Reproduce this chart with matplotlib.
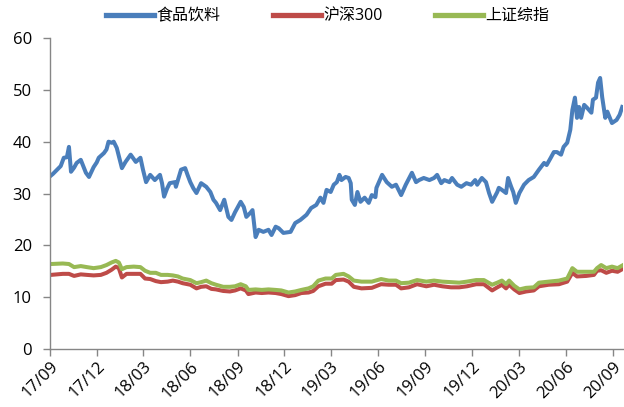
import matplotlib
matplotlib.use("Agg")
import matplotlib.pyplot as plt
import matplotlib.dates as mdates
import pandas as pd

plt.rcParams['font.family'] = ['Open Sans', 'Noto Sans CJK SC', 'DejaVu Sans']

# 食品饮料 (readings)
FOOD_DATES = [
    "2017-09-01", "2017-09-07", "2017-09-15", "2017-09-22", "2017-09-28", "2017-10-04",
    "2017-10-08", "2017-10-12", "2017-10-18", "2017-10-23", "2017-10-31", "2017-11-06",
    "2017-11-10", "2017-11-16", "2017-11-25", "2017-12-01", "2017-12-05", "2017-12-15",
    "2017-12-20", "2017-12-24", "2017-12-30", "2018-01-03", "2018-01-09", "2018-01-15",
    "2018-01-19", "2018-01-26", "2018-02-05", "2018-02-15", "2018-02-24", "2018-03-01",
    "2018-03-07", "2018-03-15", "2018-03-24", "2018-04-03", "2018-04-07", "2018-04-11",
    "2018-04-17", "2018-04-22", "2018-05-02", "2018-05-04", "2018-05-14", "2018-05-22",
    "2018-05-27", "2018-06-01", "2018-06-07", "2018-06-13", "2018-06-22", "2018-07-02",
    "2018-07-10", "2018-07-16", "2018-07-21", "2018-07-29", "2018-08-06", "2018-08-14",
    "2018-08-20", "2018-08-27", "2018-09-07", "2018-09-13", "2018-09-18", "2018-09-26",
    "2018-09-30", "2018-10-06", "2018-10-12", "2018-10-21", "2018-10-31", "2018-11-06",
    "2018-11-14", "2018-11-20", "2018-11-29", "2018-12-13", "2018-12-22", "2019-01-01",
    "2019-01-13", "2019-01-22", "2019-02-01", "2019-02-09", "2019-02-15", "2019-02-21",
    "2019-03-01", "2019-03-07", "2019-03-13", "2019-03-18", "2019-03-22", "2019-03-30",
    "2019-04-05", "2019-04-09", "2019-04-11", "2019-04-17", "2019-04-22", "2019-04-28",
    "2019-05-06", "2019-05-14", "2019-05-20", "2019-05-27", "2019-05-29", "2019-06-09",
    "2019-06-18", "2019-06-28", "2019-07-06", "2019-07-16", "2019-07-25", "2019-08-06",
    "2019-08-14", "2019-08-20", "2019-08-29", "2019-09-09", "2019-09-18", "2019-09-24",
    "2019-10-02", "2019-10-08", "2019-10-18", "2019-10-23", "2019-11-02", "2019-11-10",
    "2019-11-20", "2019-11-29", "2019-12-07", "2019-12-11", "2019-12-20", "2019-12-28",
    "2020-01-03", "2020-01-09", "2020-01-19", "2020-01-22", "2020-01-28", "2020-02-05",
    "2020-02-09", "2020-02-15", "2020-02-19", "2020-02-24", "2020-03-02", "2020-03-11",
    "2020-03-20", "2020-03-30", "2020-04-09", "2020-04-19", "2020-04-24", "2020-05-02",
    "2020-05-08", "2020-05-14", "2020-05-22", "2020-05-27", "2020-06-03", "2020-06-09",
    "2020-06-13", "2020-06-18", "2020-06-22", "2020-06-26", "2020-06-30", "2020-07-06",
    "2020-07-12", "2020-07-20", "2020-07-23", "2020-07-29", "2020-08-02", "2020-08-06",
    "2020-08-10", "2020-08-16", "2020-08-20", "2020-08-25", "2020-08-29", "2020-09-07",
    "2020-09-13", "2020-09-18",
]
FOOD = [
    33.3, 33.8, 34.6, 35.3, 36.9, 37.0, 39.0, 34.2, 35.0, 35.9, 36.5, 35.0,
    34.0, 33.2, 35.1, 36.0, 36.9, 37.8, 38.5, 40.0, 39.8, 40.0, 38.8, 36.5,
    34.9, 36.1, 37.5, 36.1, 36.9, 34.6, 32.2, 33.6, 32.6, 33.6, 32.0, 29.4,
    31.0, 32.0, 32.2, 31.3, 34.6, 34.9, 33.5, 32.2, 31.0, 30.1, 32.0, 31.3,
    30.3, 28.8, 28.2, 26.8, 28.8, 25.5, 24.9, 26.4, 28.4, 27.4, 25.5, 26.3,
    26.8, 21.6, 23.0, 22.6, 23.0, 22.0, 23.6, 23.3, 22.4, 22.6, 24.3, 24.9,
    25.9, 27.2, 27.8, 29.2, 28.2, 30.7, 30.3, 31.7, 32.2, 33.6, 32.6, 33.2,
    33.0, 32.0, 28.8, 27.8, 30.3, 28.4, 29.2, 28.2, 29.7, 29.3, 31.1, 33.6,
    32.2, 31.3, 31.7, 29.7, 31.7, 34.0, 32.2, 32.6, 33.0, 32.6, 33.0, 33.6,
    32.0, 32.6, 32.2, 33.0, 31.7, 31.3, 32.0, 31.7, 32.6, 31.7, 33.0, 32.2,
    30.1, 28.4, 30.3, 31.1, 30.7, 30.1, 33.0, 31.3, 30.3, 28.2, 30.1, 31.7,
    32.6, 33.2, 34.6, 35.9, 35.5, 36.9, 38.0, 38.0, 37.5, 39.0, 39.8, 42.3,
    46.1, 48.5, 44.6, 46.7, 44.6, 47.1, 46.5, 45.6, 48.1, 48.5, 51.4, 52.3,
    48.6, 44.6, 45.8, 44.6, 43.6, 44.2, 45.2, 46.7,
]

# 沪深300 / 上证综指
INDEX_DATES = [
    "2017-09-03", "2017-09-26", "2017-10-08", "2017-10-18", "2017-10-31", "2017-11-12",
    "2017-11-25", "2017-12-09", "2017-12-20", "2017-12-30", "2018-01-07", "2018-01-13",
    "2018-01-19", "2018-01-28", "2018-02-11", "2018-02-24", "2018-03-05", "2018-03-15",
    "2018-03-26", "2018-04-05", "2018-04-18", "2018-04-28", "2018-05-08", "2018-05-17",
    "2018-06-01", "2018-06-13", "2018-06-22", "2018-07-02", "2018-07-12", "2018-07-21",
    "2018-08-04", "2018-08-17", "2018-08-27", "2018-09-07", "2018-09-17", "2018-09-22",
    "2018-10-06", "2018-10-18", "2018-10-31", "2018-11-14", "2018-11-25", "2018-12-09",
    "2018-12-22", "2019-01-03", "2019-01-17", "2019-01-26", "2019-02-05", "2019-02-19",
    "2019-03-03", "2019-03-11", "2019-03-26", "2019-04-05", "2019-04-15", "2019-04-30",
    "2019-05-20", "2019-06-07", "2019-06-22", "2019-07-06", "2019-07-16", "2019-07-31",
    "2019-08-16", "2019-09-03", "2019-09-18", "2019-10-04", "2019-10-21", "2019-11-06",
    "2019-11-21", "2019-12-09", "2019-12-24", "2020-01-09", "2020-01-19", "2020-01-28",
    "2020-02-05", "2020-02-11", "2020-02-21", "2020-03-02", "2020-03-15", "2020-03-30",
    "2020-04-09", "2020-04-28", "2020-05-18", "2020-06-03", "2020-06-13", "2020-06-22",
    "2020-07-10", "2020-07-25", "2020-07-31", "2020-08-08", "2020-08-18", "2020-08-29",
    "2020-09-09", "2020-09-18",
]
HS300 = [
    14.3, 14.5, 14.5, 14.1, 14.4, 14.3, 14.2, 14.3, 14.7, 15.3, 15.9, 15.6,
    13.8, 14.5, 14.5, 14.5, 13.6, 13.5, 13.1, 12.9, 13.0, 13.2, 13.0, 12.7,
    12.4, 11.7, 12.0, 12.1, 11.6, 11.5, 11.2, 11.1, 11.3, 11.7, 11.3, 10.6,
    10.9, 10.8, 10.9, 10.8, 10.6, 10.2, 10.4, 10.8, 10.9, 11.2, 12.1, 12.6,
    12.6, 13.3, 13.4, 13.0, 12.0, 11.7, 11.8, 12.5, 12.4, 12.4, 11.7, 11.9,
    12.5, 12.1, 12.4, 12.1, 11.9, 11.9, 12.1, 12.5, 12.5, 11.3, 11.9, 12.4,
    11.7, 12.4, 11.5, 10.8, 11.1, 11.3, 12.1, 12.4, 12.5, 13.0, 14.7, 14.0,
    14.1, 14.3, 15.1, 15.2, 14.7, 15.1, 14.9, 15.4,
]
SHCOMP = [
    16.4, 16.5, 16.4, 15.8, 16.0, 15.8, 15.6, 15.8, 16.2, 16.7, 17.0, 16.7,
    15.4, 15.8, 15.9, 15.8, 15.1, 14.7, 14.7, 14.3, 14.3, 14.2, 14.0, 13.6,
    13.3, 12.7, 12.9, 13.2, 12.7, 12.4, 12.0, 12.0, 12.1, 12.5, 12.1, 11.4,
    11.5, 11.4, 11.5, 11.4, 11.3, 10.9, 11.1, 11.4, 11.7, 12.1, 13.2, 13.6,
    13.6, 14.3, 14.5, 14.0, 13.2, 13.0, 13.0, 13.5, 13.2, 13.2, 12.7, 12.8,
    13.3, 13.0, 13.2, 13.0, 12.9, 12.8, 13.0, 13.3, 13.3, 12.4, 12.8, 13.2,
    12.5, 13.2, 12.2, 11.5, 11.8, 11.9, 12.8, 13.0, 13.2, 13.6, 15.6, 14.9,
    14.9, 14.9, 15.6, 16.2, 15.6, 15.9, 15.6, 16.1,
]

SERIES_NAMES = ["食品饮料", "沪深300", "上证综指"]
TICK_DATES = pd.date_range("2017-09-01", "2020-09-01", freq="3MS")

fig = plt.figure(figsize=(6.24, 4.07), dpi=100)
ax = fig.add_axes([0.080, 0.1425, 0.918, 0.764])

ax.plot(pd.to_datetime(FOOD_DATES), FOOD, color="#4a7ebb", lw=2.9,
        label=SERIES_NAMES[0], solid_joinstyle="round")
ax.plot(pd.to_datetime(INDEX_DATES), HS300, color="#be4b48", lw=2.9,
        label=SERIES_NAMES[1], solid_joinstyle="round")
ax.plot(pd.to_datetime(INDEX_DATES), SHCOMP, color="#98b954", lw=2.9,
        label=SERIES_NAMES[2], solid_joinstyle="round")

ax.set_ylim(0, 60)
ax.set_yticks(range(0, 61, 10))
ax.set_xlim(pd.Timestamp("2017-09-01"), pd.Timestamp("2020-09-19"))
ax.set_xticks(TICK_DATES)
ax.xaxis.set_major_formatter(mdates.DateFormatter("%y/%m"))

for side in ("top", "right"):
    ax.spines[side].set_visible(False)
for side in ("left", "bottom"):
    ax.spines[side].set_color("#868686")
    ax.spines[side].set_linewidth(1.0)

ax.tick_params(axis="both", colors="#868686", labelcolor="black",
               direction="out", length=5, width=1.0)
ax.tick_params(axis="y", labelsize=12, pad=8)
ax.tick_params(axis="x", labelsize=12, pad=2)
for lbl in ax.get_xticklabels():
    lbl.set_rotation(45)
    lbl.set_ha("right")
    lbl.set_rotation_mode("anchor")

leg = fig.legend(loc="upper center", bbox_to_anchor=(0.525, 1.015), ncol=3,
                 frameon=False, fontsize=11.5, handlelength=3.0,
                 handletextpad=0.15, columnspacing=3.3)
for line in leg.get_lines():
    line.set_linewidth(3.8)

fig.savefig("out.png", dpi=100)
